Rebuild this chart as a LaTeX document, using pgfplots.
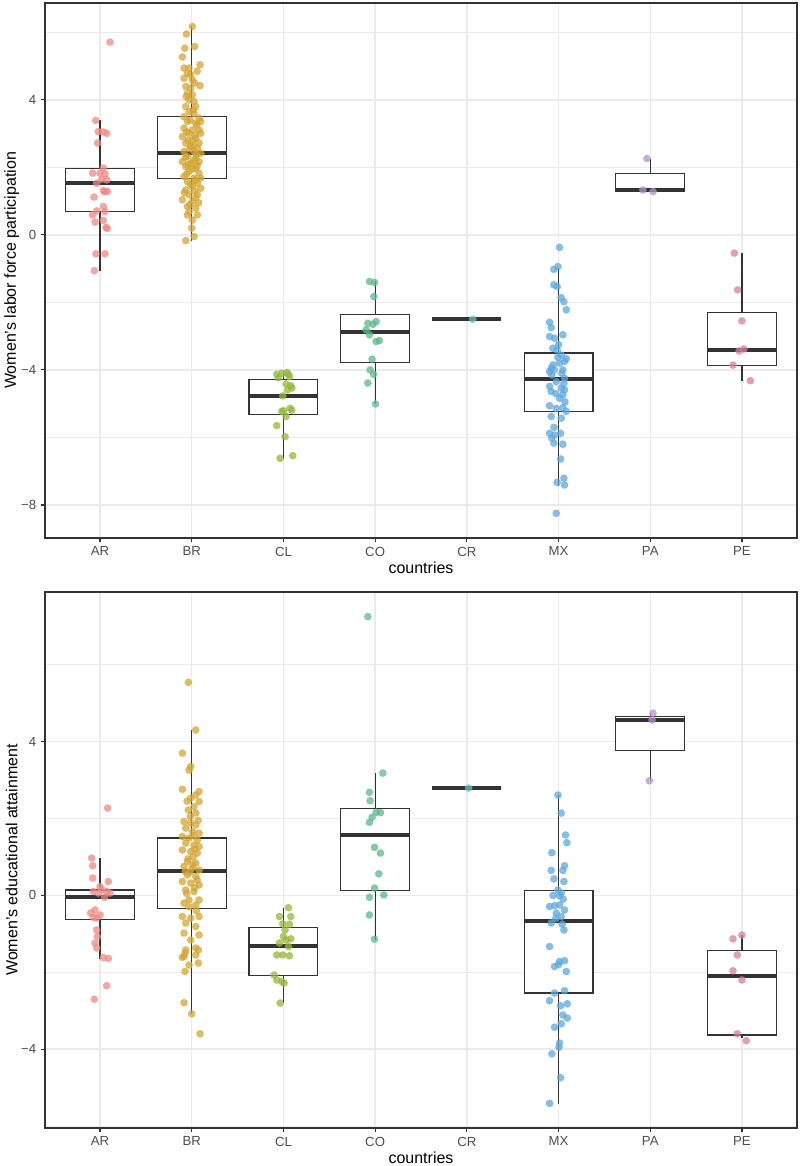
\documentclass[border=0pt]{standalone}
\usepackage{fontspec}
\setmainfont{Liberation Sans}
\usepackage{pgfplots}
\pgfplotsset{compat=1.18}
\usepgfplotslibrary{statistics}

\definecolor{cAR}{HTML}{EE8A84}
\definecolor{cBR}{HTML}{D4A533}
\definecolor{cCL}{HTML}{95B83A}
\definecolor{cCO}{HTML}{5DB98A}
\definecolor{cCR}{HTML}{69BFC0}
\definecolor{cMX}{HTML}{5DA8DE}
\definecolor{cPA}{HTML}{B495C9}
\definecolor{cPE}{HTML}{D47FA3}
\definecolor{gg20}{HTML}{333333}
\definecolor{gg30}{HTML}{4D4D4D}
\definecolor{gridc}{HTML}{EBEBEB}

\pgfplotsset{
  ggax/.style={
    scale only axis, width=564pt, anchor=south west,
    xmin=0.4, xmax=8.6,
    xtick={1,...,8}, xticklabels={AR,BR,CL,CO,CR,MX,PA,PE},
    tick pos=left, tick align=outside,
    major tick length=3.1pt, minor tick length=0pt,
    major tick style={line width=0.9pt, draw=gg20},
    axis line style={line width=1.2pt, draw=gg20},
    xmajorgrids, ymajorgrids, yminorgrids,
    minor ytick={-6,-2,2,6},
    major grid style={line width=1.1pt, draw=gridc},
    minor grid style={line width=0.55pt, draw=gridc},
    ticklabel style={font=\fontsize{9.9}{11}\selectfont, text=gg30},
    label style={font=\fontsize{12}{14}\selectfont},
    xlabel={countries},
    xlabel style={at={(axis description cs:0.5,-0.056)}, anchor=center},
    ylabel style={at={(axis description cs:-0.0443,0.5)}, anchor=center},
    boxplot/draw direction=y,
    boxplot/every median/.style={line width=3pt},
  },
  bx/.style={draw=gg20, fill=white, line width=0.9pt, solid,
    boxplot prepared={box extend=0.75, whisker extend=0, #1}},
  pt/.style={only marks, mark=*, color=#1, mark size=2.7pt,
    mark options={line width=0.2pt, draw=#1, fill=#1, fill opacity=0.75, draw opacity=0.75}},
}

\begin{document}
\begin{tikzpicture}
\useasboundingbox (0,0) rectangle (600pt,874.5pt);

% top panel: labor force participation
\begin{axis}[ggax, at={(33.75pt,471pt)}, height=401.25pt,
  ymin=-8.98, ymax=6.87,
  ytick={-8,-4,0,4}, yticklabels={−8,−4,0,4},
  ylabel={Women's labor force participation}]
\addplot[bx={draw position=1, lower whisker=-1.06, lower quartile=0.69, median=1.55, upper quartile=1.96, upper whisker=3.39}] coordinates {};
\addplot[bx={draw position=2, lower whisker=-0.17, lower quartile=1.66, median=2.42, upper quartile=3.50, upper whisker=6.19}] coordinates {};
\addplot[bx={draw position=3, lower whisker=-6.65, lower quartile=-5.31, median=-4.77, upper quartile=-4.28, upper whisker=-4.05}] coordinates {};
\addplot[bx={draw position=4, lower whisker=-5.01, lower quartile=-3.77, median=-2.88, upper quartile=-2.35, upper whisker=-1.38}] coordinates {};
\addplot[bx={draw position=5, lower whisker=-2.50, lower quartile=-2.50, median=-2.50, upper quartile=-2.50, upper whisker=-2.50}] coordinates {};
\addplot[bx={draw position=6, lower whisker=-7.43, lower quartile=-5.24, median=-4.27, upper quartile=-3.50, upper whisker=-0.97}] coordinates {};
\addplot[bx={draw position=7, lower whisker=1.30, lower quartile=1.30, median=1.34, upper quartile=1.81, upper whisker=2.26}] coordinates {};
\addplot[bx={draw position=8, lower whisker=-4.33, lower quartile=-3.86, median=-3.41, upper quartile=-2.31, upper whisker=-0.54}] coordinates {};

\addplot[pt=cAR] coordinates {(1.109,5.71)(0.953,3.39)(0.981,3.06)(1.036,3.05)(1.073,3.01)(0.975,2.72)(1.036,1.98)(0.920,1.83)(1.000,1.83)(1.054,1.80)(1.018,1.65)(1.073,1.63)(0.964,1.53)(1.036,1.31)(1.080,1.29)(1.054,1.28)(0.935,1.12)(1.036,0.84)(0.964,0.71)(1.054,0.69)(0.920,0.59)(0.946,0.38)(1.036,0.43)(1.065,0.22)(1.080,0.19)(0.956,-0.56)(1.054,-0.56)(0.938,-1.06)};
\addplot[pt=cBR] coordinates {(2.007,6.17)(1.942,5.95)(2.033,5.58)(1.924,5.53)(1.898,5.27)(2.091,5.04)(1.916,4.94)(1.971,4.94)(1.953,4.79)(1.989,4.74)(1.916,4.64)(2.007,4.59)(2.091,4.42)(1.935,4.40)(1.989,4.35)(1.953,4.20)(2.007,4.15)(1.971,4.00)(2.025,3.95)(1.935,3.80)(2.044,3.80)(1.971,3.65)(2.025,3.60)(1.916,3.50)(2.080,3.46)(1.953,3.36)(2.044,3.31)(2.098,3.36)(1.916,3.16)(2.007,3.11)(2.080,3.11)(1.971,3.01)(2.098,3.01)(1.898,2.91)(2.044,2.86)(2.007,2.81)(1.935,2.72)(2.080,2.72)(1.989,2.62)(2.062,2.57)(1.916,2.47)(2.025,2.47)(2.098,2.42)(1.953,2.32)(2.044,2.27)(1.898,2.17)(1.989,2.12)(2.080,2.17)(1.935,2.02)(2.044,1.98)(1.971,1.88)(2.080,1.83)(1.916,1.73)(2.025,1.68)(2.098,1.68)(1.953,1.58)(2.062,1.53)(2.007,1.43)(2.098,1.38)(1.935,1.33)(1.971,1.19)(2.062,1.19)(1.898,1.04)(2.007,0.99)(1.953,0.84)(2.044,0.79)(1.971,0.69)(2.062,0.59)(1.953,0.59)(2.007,0.44)(2.000,0.20)(2.025,-0.05)(1.935,-0.17)
(2.015,3.70)(1.985,3.40)(2.055,3.25)(1.945,3.05)(2.035,2.95)(1.960,2.80)(2.015,2.65)(1.980,2.55)(2.050,2.38)(1.930,2.30)(2.020,2.20)(1.960,2.08)(2.060,2.05)(2.010,1.95)(1.945,1.80)(2.040,1.62)(1.985,1.50)(2.030,1.30)(1.920,1.25)(2.045,1.10)(1.980,0.90)(2.075,0.95)(1.940,4.10)(2.030,4.50)(2.060,4.85)};
\addplot[pt=cCL] coordinates {(2.927,-4.13)(2.982,-4.10)(3.036,-4.08)(3.055,-4.13)(2.945,-4.23)(3.065,-4.20)(3.029,-4.42)(3.080,-4.47)(3.044,-4.59)(3.091,-4.54)(2.993,-4.77)(3.000,-5.21)(3.073,-5.14)(3.091,-5.19)(2.982,-5.23)(3.029,-5.38)(2.927,-5.65)(3.018,-5.98)(2.964,-6.62)(3.102,-6.54)};
\addplot[pt=cCO] coordinates {(3.938,-1.38)(3.993,-1.41)(3.985,-1.83)(3.920,-2.62)(3.975,-2.65)(4.011,-2.57)(3.902,-2.81)(3.938,-2.96)(4.011,-3.16)(4.047,-3.13)(3.967,-3.68)(3.945,-4.00)(3.982,-4.13)(3.920,-4.39)(4.004,-5.01)};
\addplot[pt=cCR] coordinates {(5.065,-2.50)};
\addplot[pt=cMX] coordinates {(6.011,-0.37)(5.949,-1.02)(5.993,-0.94)(5.949,-1.48)(5.985,-1.53)(6.029,-1.86)(6.058,-1.98)(6.084,-2.22)(5.902,-2.59)(5.902,-3.01)(5.956,-3.06)(6.047,-2.96)(5.938,-3.36)(5.985,-3.41)(6.029,-3.56)(6.084,-3.67)(5.993,-3.63)(6.065,-3.75)(6.011,-3.80)(5.920,-3.95)(5.956,-4.00)(5.902,-4.05)(6.047,-4.00)(5.927,-4.15)(6.065,-4.25)(5.975,-4.35)(6.058,-4.40)(5.902,-4.49)(6.029,-4.54)(6.065,-4.59)(5.920,-4.64)(6.047,-4.74)(6.011,-4.84)(5.902,-5.06)(5.975,-5.14)(6.047,-5.12)(6.084,-5.23)(5.920,-5.38)(6.029,-5.43)(5.902,-5.88)(5.956,-5.93)(5.927,-6.02)(6.022,-5.88)(5.949,-6.17)(6.047,-6.20)(6.022,-6.64)(5.985,-7.33)(6.058,-7.21)(6.065,-7.41)(5.975,-8.25)
(5.940,-3.85)(6.035,-4.10)(5.970,-4.70)(6.070,-4.95)(5.950,-5.70)(6.000,-3.25)(5.920,-2.75)};
\addplot[pt=cPA] coordinates {(6.964,2.26)(6.920,1.33)(7.030,1.28)};
\addplot[pt=cPE] coordinates {(7.917,-0.54)(7.953,-1.63)(8.000,-2.55)(8.020,-3.38)(7.970,-3.44)(7.902,-3.86)(8.092,-4.32)};
\end{axis}

% bottom panel: educational attainment
\begin{axis}[ggax, at={(33.75pt,28.5pt)}, height=402pt,
  ymin=-6.05, ymax=7.89,
  ytick={-4,0,4}, yticklabels={−4,0,4},
  ylabel={Women's educational attainment}]
\addplot[bx={draw position=1, lower whisker=-1.65, lower quartile=-0.63, median=-0.04, upper quartile=0.14, upper whisker=0.97}] coordinates {};
\addplot[bx={draw position=2, lower whisker=-3.08, lower quartile=-0.35, median=0.64, upper quartile=1.49, upper whisker=4.30}] coordinates {};
\addplot[bx={draw position=3, lower whisker=-2.80, lower quartile=-2.08, median=-1.31, upper quartile=-0.83, upper whisker=-0.32}] coordinates {};
\addplot[bx={draw position=4, lower whisker=-1.16, lower quartile=0.12, median=1.57, upper quartile=2.25, upper whisker=3.19}] coordinates {};
\addplot[bx={draw position=5, lower whisker=2.79, lower quartile=2.79, median=2.79, upper quartile=2.79, upper whisker=2.79}] coordinates {};
\addplot[bx={draw position=6, lower whisker=-5.43, lower quartile=-2.54, median=-0.66, upper quartile=0.12, upper whisker=2.61}] coordinates {};
\addplot[bx={draw position=7, lower whisker=2.98, lower quartile=3.76, median=4.55, upper quartile=4.65, upper whisker=4.74}] coordinates {};
\addplot[bx={draw position=8, lower whisker=-3.70, lower quartile=-3.63, median=-2.09, upper quartile=-1.43, upper whisker=-1.03}] coordinates {};

\addplot[pt=cAR] coordinates {(1.084,2.27)(0.909,0.97)(0.920,0.77)(0.920,0.45)(1.091,0.36)(1.000,0.23)(0.927,0.10)(0.982,0.06)(1.073,0.10)(1.109,0.06)(0.945,-0.38)(0.898,-0.46)(1.000,-0.51)(0.964,-0.59)(0.927,-0.57)(0.964,-0.90)(0.971,-1.07)(0.945,-1.24)(0.964,-1.37)(1.036,-1.62)(1.091,-1.64)(1.073,-2.35)(0.938,-2.70)(1.020,0.15)(1.050,-0.05)};
\addplot[pt=cBR] coordinates {(1.964,5.54)(2.044,4.30)(1.898,3.70)(1.989,3.35)(1.971,3.26)(1.898,2.76)(2.080,2.70)(2.044,2.61)(1.989,2.53)(2.080,2.44)(2.025,2.31)(1.964,2.22)(2.044,2.14)(1.916,1.92)(1.989,1.88)(2.044,1.83)(1.935,1.75)(2.007,1.66)(2.080,1.62)(1.898,1.53)(1.971,1.49)(2.062,1.44)(1.935,1.36)(2.025,1.31)(2.080,1.27)(1.898,1.18)(1.989,1.14)(2.062,1.10)(1.953,0.88)(2.044,0.84)(1.916,0.75)(2.007,0.71)(2.080,0.66)(1.953,0.53)(2.044,0.49)(1.898,0.36)(1.989,0.32)(2.080,0.27)(1.935,0.14)(2.025,0.10)(1.971,-0.12)(2.080,-0.12)(1.916,-0.20)(2.044,-0.25)(1.898,-0.55)(1.989,-0.59)(2.080,-0.55)(1.935,-0.72)(2.044,-0.81)(1.916,-0.98)(2.080,-1.03)(1.989,-1.16)(2.044,-1.37)(1.927,-1.50)(1.898,-1.61)(1.971,-1.81)(2.073,-1.76)(1.927,-1.98)(1.935,-1.42)(2.073,-1.42)(2.044,-1.55)(1.916,-1.59)(1.916,-2.79)(2.000,-3.08)(2.091,-3.60)
(2.015,1.00)(1.960,0.95)(2.060,0.40)(1.980,0.60)(2.030,0.20)(1.945,0.05)(2.010,0.80)(2.070,1.95)(1.985,2.05)(2.030,1.20)(1.930,0.62)(2.050,-0.40)(1.970,-0.30)(2.020,1.55)(1.950,2.45)};
\addplot[pt=cCL] coordinates {(3.055,-0.32)(2.956,-0.55)(3.080,-0.55)(2.993,-0.74)(3.065,-0.75)(3.018,-0.90)(3.000,-1.07)(3.080,-1.13)(3.029,-1.16)(2.956,-1.24)(3.055,-1.33)(2.927,-1.55)(2.993,-1.55)(3.065,-1.57)(2.898,-2.07)(2.927,-2.20)(2.982,-2.24)(3.007,-2.28)(2.964,-2.80)};
\addplot[pt=cCO] coordinates {(3.920,7.25)(4.084,3.18)(3.938,2.68)(3.945,2.46)(4.011,2.16)(4.058,2.15)(3.967,2.03)(3.938,1.90)(3.993,1.25)(4.058,1.10)(4.040,0.56)(3.993,0.19)(3.938,-0.05)(4.095,0.01)(3.938,-0.51)(3.993,-1.14)};
\addplot[pt=cCR] coordinates {(5.020,2.79)};
\addplot[pt=cMX] coordinates {(5.993,2.61)(6.029,2.14)(6.076,1.57)(6.091,1.37)(5.927,1.11)(6.065,0.77)(6.047,0.65)(5.920,0.65)(5.949,0.43)(6.058,0.36)(5.993,0.14)(6.029,0.06)(6.011,-0.01)(5.902,-0.29)(5.956,-0.27)(6.011,-0.25)(6.065,-0.38)(5.975,-0.46)(6.029,-0.55)(5.920,-0.72)(6.058,-0.90)(5.902,-1.33)(5.956,-1.85)(6.011,-1.72)(6.065,-1.70)(6.084,-1.98)(5.956,-2.54)(6.065,-2.48)(5.902,-2.74)(6.022,-2.87)(6.095,-2.82)(6.047,-3.11)(6.095,-3.19)(6.029,-3.34)(5.956,-3.43)(6.011,-3.84)(6.004,-3.95)(5.927,-4.12)(6.022,-4.74)(5.902,-5.41)
(5.970,-0.60)(6.040,-0.75)(5.940,0.00)(6.000,-1.80)(6.050,-0.10)};
\addplot[pt=cPA] coordinates {(7.030,4.74)(7.020,4.56)(6.990,2.98)};
\addplot[pt=cPE] coordinates {(8.000,-1.03)(7.902,-1.13)(7.949,-1.55)(7.902,-1.96)(8.000,-2.20)(7.949,-3.60)(8.047,-3.78)};
\end{axis}
\end{tikzpicture}
\end{document}
